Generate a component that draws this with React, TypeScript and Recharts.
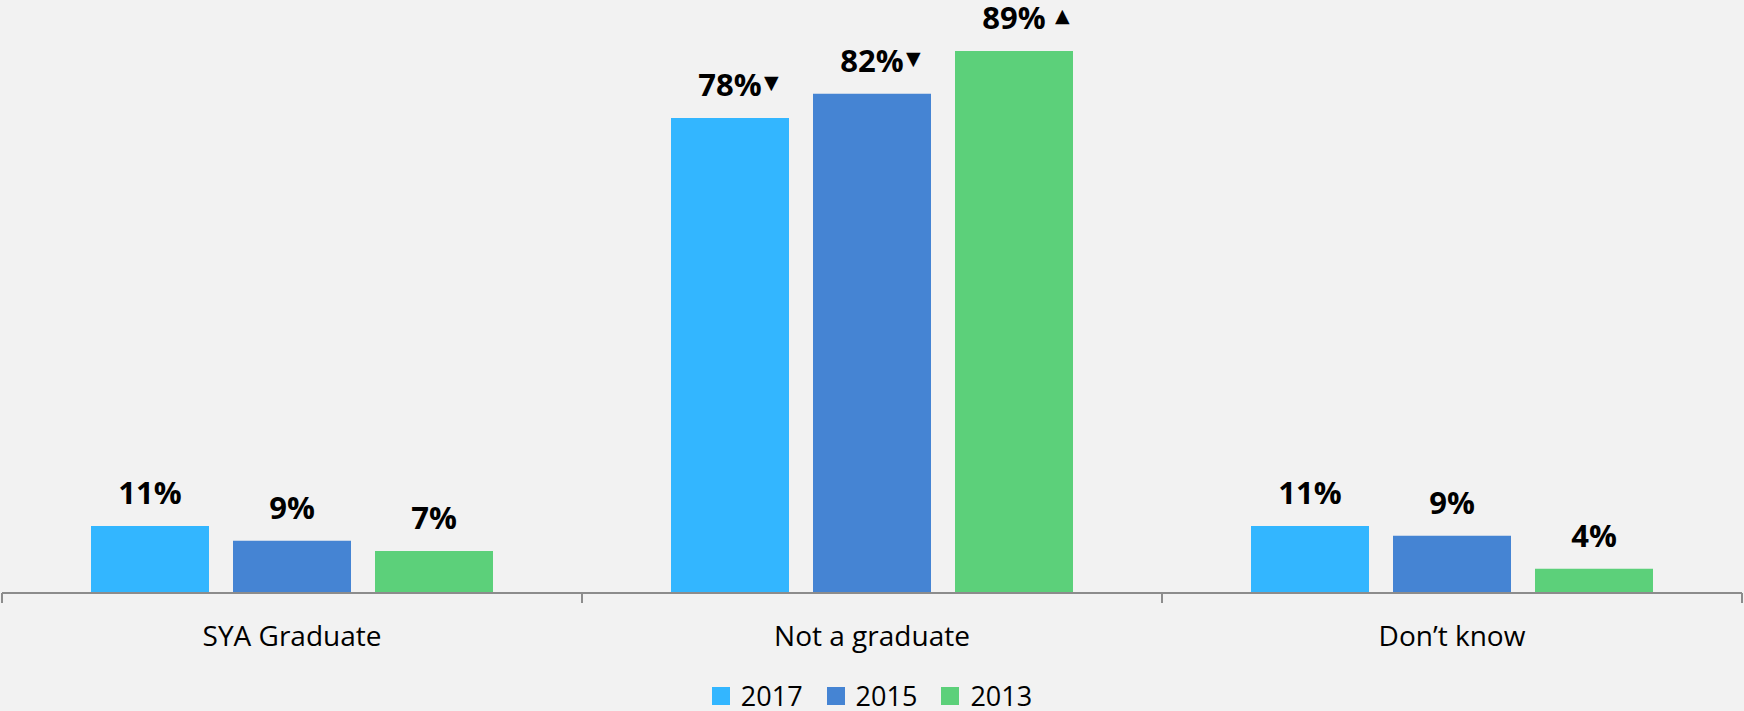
import React from 'react';
import { BarChart, Bar, XAxis, YAxis, Legend, LabelList } from 'recharts';

const categories = ['SYA Graduate', 'Not a graduate', 'Don\u2019t know'];
const seriesNames = ['2017', '2015', '2013'];
const values2017 = [11, 78, 11];
const values2015 = [8.6, 82, 9.4];
const values2013 = [6.9, 89, 4];
const arrows2017 = ['', '\u25BC', ''];
const arrows2015 = ['', '\u25BC', ''];
const arrows2013 = ['', '\u25B2', ''];
const colors = ['#33B6FF', '#4584D3', '#5CD07A'];

const data = categories.map((c, i) => ({
  category: c,
  y2017: values2017[i],
  y2015: values2015[i],
  y2013: values2013[i],
}));

const FONT = '"Open Sans", sans-serif';

const makeLabel = (arrows: string[]) => (props: any) => {
  const { x, y, width, value, index } = props;
  const cx = Number(x) + Number(width) / 2;
  const base = Number(y) - 22;
  const arrow = arrows[index];
  return (
    <g>
      <text x={cx} y={base} textAnchor="middle" fontFamily={FONT} fontWeight={700} fontSize={31} fill="#000">
        {Math.round(Number(value))}%
      </text>
      {arrow ? (
        <text x={cx + (arrow === '\u25B2' ? 41 : 34)} y={base - 7} fontFamily='"DejaVu Sans"' fontSize={19} fill="#000">
          {arrow}
        </text>
      ) : null}
    </g>
  );
};

const CategoryTick = (props: any) => {
  const { x, y, payload, index, visibleTicksCount, width } = props;
  const n = visibleTicksCount || categories.length;
  const half = width ? Number(width) / n / 2 : 290;
  const isLast = index === n - 1;
  return (
    <g>
      <line x1={x - half} x2={x - half} y1={y} y2={y + 10} stroke="#8C8C8C" strokeWidth={2} />
      {isLast ? <line x1={x + half} x2={x + half} y1={y} y2={y + 10} stroke="#8C8C8C" strokeWidth={2} /> : null}
      <text x={x} y={y + 53} textAnchor="middle" fontFamily={FONT} fontSize={28} fill="#000">
        {payload.value}
      </text>
    </g>
  );
};

const renderLegend = (props: any) => {
  const payload = [...(props.payload || [])].sort(
    (a: any, b: any) => seriesNames.indexOf(String(a.value)) - seriesNames.indexOf(String(b.value))
  );
  return (
    <div style={{ display: 'flex', justifyContent: 'center', alignItems: 'center', height: 30, fontFamily: FONT, fontSize: 27, color: '#000' }}>
      {payload.map((p: any, i: number) => (
        <div key={i} style={{ display: 'flex', alignItems: 'center', marginLeft: i ? 24 : 0 }}>
          <span style={{ display: 'inline-block', width: 18, height: 18, background: p.color, marginRight: 11 }} />
          <span style={{ lineHeight: '30px' }}>{p.value}</span>
        </div>
      ))}
    </div>
  );
};

export default function App() {
  return (
    <div style={{ position: 'absolute', left: 0, top: 0, width: 1744, height: 711, background: '#F2F2F2', fontFamily: FONT }}>
      <BarChart
        width={1744}
        height={711}
        data={data}
        margin={{ top: 45, right: 2, bottom: 0, left: 2 }}
        barCategoryGap={89}
        barGap={24}
      >
        <YAxis hide domain={[0, 90]} allowDataOverflow />
        <XAxis
          dataKey="category"
          height={88}
          interval={0}
          tickLine={false}
          tickSize={0}
          tickMargin={0}
          axisLine={{ stroke: '#8C8C8C', strokeWidth: 2 }}
          tick={<CategoryTick />}
        />
        <Legend verticalAlign="bottom" content={renderLegend} />
        <Bar dataKey="y2017" name={seriesNames[0]} fill={colors[0]} isAnimationActive={false}>
          <LabelList dataKey="y2017" content={makeLabel(arrows2017)} />
        </Bar>
        <Bar dataKey="y2015" name={seriesNames[1]} fill={colors[1]} isAnimationActive={false}>
          <LabelList dataKey="y2015" content={makeLabel(arrows2015)} />
        </Bar>
        <Bar dataKey="y2013" name={seriesNames[2]} fill={colors[2]} isAnimationActive={false}>
          <LabelList dataKey="y2013" content={makeLabel(arrows2013)} />
        </Bar>
      </BarChart>
    </div>
  );
}
